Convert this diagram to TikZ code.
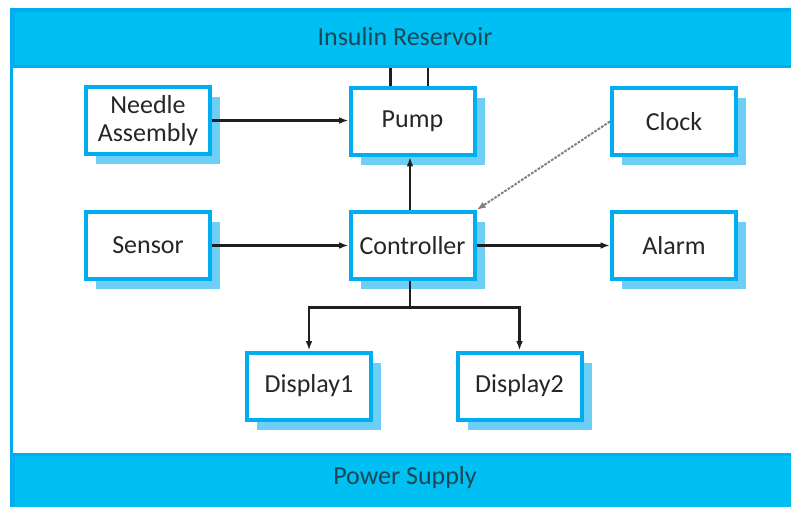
\documentclass[tikz,border=0pt]{standalone}
\usepackage{fontspec}
\setmainfont{Carlito}
\usetikzlibrary{arrows.meta,shadows}

\definecolor{framecyan}{HTML}{00AEEF}
\definecolor{bandcyan}{HTML}{00BFF3}
\definecolor{shadowblue}{HTML}{6DCFF6}
\definecolor{bandtext}{HTML}{1B4654}

\tikzset{
	unit/.style={draw=framecyan, fill=white, line width=3pt, minimum width=93pt, minimum height=50.25pt,
		align=center, text=black!85, font=\fontsize{19.5}{21}\selectfont,
		general shadow={fill=shadowblue, shadow xshift=7.5pt, shadow yshift=-7.5pt}},
	band/.style={draw=framecyan, fill=bandcyan, line width=2.25pt, minimum width=597pt, minimum height=42pt,
		anchor=north west, inner sep=0pt},
	bandlabel/.style={text=bandtext, font=\fontsize{19.5}{19.5}\selectfont},
	conn/.style={line width=2pt, draw=black!88},
	flow/.style={conn, -{Latex[length=7pt,width=5pt]}},
	tick/.style={line width=1.5pt, draw=black!50, dash pattern=on 2pt off 1pt,
		-{Latex[length=7pt,width=5pt,fill=black!85]}}
}

\begin{document}
\begin{tikzpicture}[x=0.75pt, y=-0.75pt]
	\clip (0,0) rectangle (791,506);
	\useasboundingbox (0,0) rectangle (791,506);
	% frame and the two bands
	\draw[draw=framecyan, line width=2.25pt] (11.5,9.5) rectangle (820,530);
	\node[band] (reservoir) at (11.5,9.5) {};
	\node[bandlabel] (reservoirtext) at (405,37) {Insulin Reservoir};
	\node[band, minimum height=60pt] (power) at (11.5,452.5) {};
	\node[bandlabel] (powertext) at (405,478) {Power Supply};
	% units
	\node[unit] (needle) at (148,120.5) {Needle\\Assembly};
	\node[unit] (pump) at (412.5,121.5) {Pump};
	\node[unit] (clock) at (674,121.5) {Clock};
	\node[unit] (sensor) at (148,245.5) {Sensor};
	\node[unit] (controller) at (412.5,245.5) {Controller};
	\node[unit] (alarm) at (674,245.5) {Alarm};
	\node[unit] (display1) at (309,386) {Display1};
	\node[unit] (display2) at (519.5,386) {Display2};
	% pump feed from reservoir
	\draw[conn] ([xshift=-16.5pt]pump.north) -- ([xshift=-16.5pt]pump.north |- reservoir.south);
	\draw[conn] ([xshift=11.5pt]pump.north) -- ([xshift=11.5pt]pump.north |- reservoir.south);
	% signals
	\draw[flow] (needle) -- (pump.west |- needle);
	\draw[flow] (sensor) -- (controller);
	\draw[flow] (controller) -- (alarm);
	\draw[flow] ([xshift=-1.9pt]controller.north) -- ([xshift=-1.9pt]pump.south);
	\draw[tick] (clock.west) -- (controller.north east);
	\coordinate (split) at ([xshift=-1.9pt, yshift=-20pt]controller.south);
	\draw[conn] ([xshift=-1.9pt]controller.south) -- (split);
	\draw[flow] (split) -| (display1.north);
	\draw[flow] (split) -| (display2.north);
\end{tikzpicture}
\end{document}
